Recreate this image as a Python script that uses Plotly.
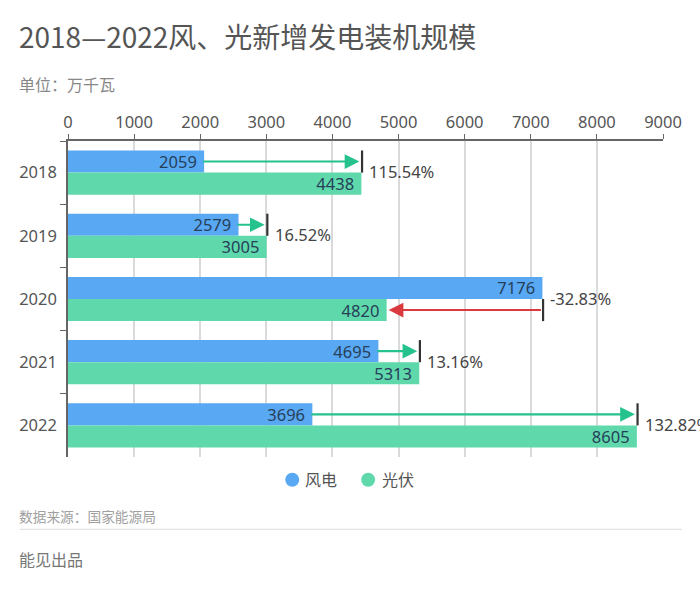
import plotly.graph_objects as go

years = ["2018", "2019", "2020", "2021", "2022"]
wind = [2059, 2579, 7176, 4695, 3696]
solar = [4438, 3005, 4820, 5313, 8605]
changes = ["115.54%", "16.52%", "-32.83%", "13.16%", "132.82%"]
x_ticks = [0, 1000, 2000, 3000, 4000, 5000, 6000, 7000, 8000, 9000]

BLUE = "#58A8F3"
GREEN = "#5FD9AB"
UP = "#25C28E"
DOWN = "#D9393F"
CJK = "Noto Sans CJK SC"
NUM = "Noto Sans, Noto Sans CJK SC"
W, H = 700, 595
L, R, T, B = 67.5, 663.2, 141.0, 457.2
BAR_OFF = 0.175

def px(x):
    return (x - L) / (R - L)

def py(y):
    return 1 - (y - T) / (B - T)

fig = go.Figure()
for name, vals, col in (("风电", wind, BLUE), ("光伏", solar, GREEN)):
    fig.add_trace(go.Bar(
        y=years, x=vals, name=name, orientation="h", marker=dict(color=col, line_width=0),
        text=[f"{v}\u00a0" for v in vals], textposition="inside", insidetextanchor="end",
        constraintext="none", textangle=0, textfont=dict(family=NUM, size=16.5, color="#27405A"),
        showlegend=False, hoverinfo="x+y", cliponaxis=False,
    ))

for i, (w, s, c) in enumerate(zip(wind, solar, changes)):
    grow = s >= w
    row = i - BAR_OFF if grow else i + BAR_OFF
    fig.add_annotation(
        x=s, y=row, ax=w - 40 if grow else w, ay=row, xref="x", yref="y", axref="x", ayref="y",
        text="", showarrow=True, arrowhead=2, arrowsize=1.4, arrowwidth=2.1,
        arrowcolor=UP if grow else DOWN, standoff=2,
    )
    fig.add_shape(
        type="line", xref="x", yref="y", x0=max(w, s) + 10, x1=max(w, s) + 10,
        y0=row - BAR_OFF, y1=row + BAR_OFF, line=dict(color="#333333", width=2.2),
    )
    fig.add_annotation(
        x=max(w, s), y=i, xref="x", yref="y", text=c, showarrow=False,
        xanchor="left", yanchor="middle", xshift=6, yshift=1,
        font=dict(family=NUM, size=16.5, color="#444444"),
    )

def note(text, x, y, size, color):
    fig.add_annotation(
        x=px(x - 3), y=py(y - 1), xref="paper", yref="paper", text=text, showarrow=False,
        xanchor="left", yanchor="middle", font=dict(family=CJK, size=size, color=color),
    )

fig.update_layout(
    width=W, height=H, margin=dict(l=L, r=W - R, t=T, b=H - B, pad=0, autoexpand=False),
    paper_bgcolor="white", plot_bgcolor="white", barmode="group", bargap=0.3, bargroupgap=0,
    showlegend=False,
    xaxis=dict(side="top", range=[0, 9000], tickvals=x_ticks, ticks="outside", ticklen=5, tickcolor="#666666",
               showline=True, linecolor="#666666", linewidth=1.5, showgrid=True, gridcolor="#DADADA", gridwidth=1.5,
               zeroline=False, tickfont=dict(family=NUM, size=16.5, color="#555555")),
    yaxis=dict(type="category", autorange="reversed", ticks="outside", ticklen=6, tickcolor="#666666",
               tickson="boundaries", showline=True, linecolor="#666666", linewidth=1.5, showgrid=False, zeroline=False,
               ticklabelstandoff=6, tickfont=dict(family=NUM, size=16.5, color="#555555")),
)

note("2018—2022风、光新增发电装机规模", 19, 37, 28, "#555555")
note("单位：万千瓦", 19, 85, 16, "#888888")
note("数据来源：国家能源局", 19, 517, 13.7, "#A0A0A0")
note("能见出品", 19, 560, 16, "#777777")
fig.add_shape(type="line", xref="paper", yref="paper", x0=px(19), x1=px(682),
              y0=py(529.5), y1=py(529.5), line=dict(color="#DDDDDD", width=1.2))

# legend, placed to match the reference spacing
for name, col, cx, tx in (("风电", BLUE, 292, 306), ("光伏", GREEN, 368, 383)):
    fig.add_shape(type="circle", xref="paper", yref="paper", x0=px(cx - 7), x1=px(cx + 7),
                  y0=py(480 - 7), y1=py(480 + 7), fillcolor=col, line_width=0)
    note(name, tx, 480, 16, "#555555")

fig.write_html("out.html", config={"displayModeBar": False},
               post_script="document.body.style.margin='0';")
